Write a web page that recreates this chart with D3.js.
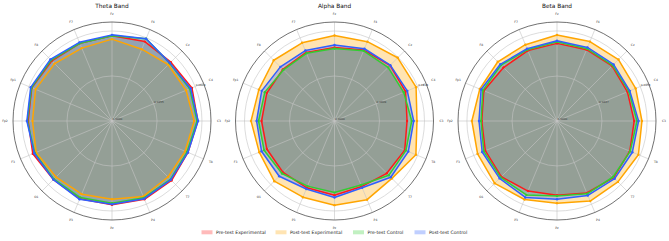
<!DOCTYPE html>
<html><head><meta charset="utf-8">
<script src="https://cdn.jsdelivr.net/npm/d3@7"></script>
<style>body{margin:0;background:#fff}svg{display:block}text{font-family:"DejaVu Sans",sans-serif}</style>
</head><body><svg id="c" width="669" height="241"></svg>
<script>
const channels = ["Fz","F4","Cz","C4","C3","T8","T7","P4","Pz","P3","O1","F3","Fp2","Fp1","F8","F7"];
const seriesNames = ["Pre-test Experimental","Post-test Experimental","Pre-test Control","Post-test Control"];
const seriesColors = ["#ff1a1a","#ffa500","#32cd32","#2f5fff"];
const bands = ["Theta Band","Alpha Band","Beta Band"];
const bandMax = [0.1, 0.2, 0.05];
const thetaTicks = [0, 0.0455, 0.0909];
const alphaTicks = [0, 0.0909, 0.1818];
const betaTicks = [0, 0.0227, 0.0455];

const thetaPreExp  = [0.0860,0.0868,0.0840,0.0874,0.0867,0.0830,0.0850,0.0856,0.0847,0.0850,0.0837,0.0866,0.0847,0.0877,0.0860,0.0849];
const thetaPostExp = [0.0827,0.0785,0.0804,0.0810,0.0830,0.0800,0.0800,0.0825,0.0790,0.0800,0.0800,0.0830,0.0803,0.0836,0.0820,0.0797];
const thetaPreCon  = [0.0860,0.0900,0.0825,0.0850,0.0860,0.0820,0.0835,0.0840,0.0830,0.0837,0.0830,0.0845,0.0855,0.0880,0.0870,0.0850];
const thetaPostCon = [0.0870,0.0900,0.0827,0.0860,0.0870,0.0830,0.0840,0.0849,0.0840,0.0856,0.0837,0.0850,0.0860,0.0889,0.0880,0.0860];

const alphaPreExp  = [0.1486,0.1552,0.1588,0.1554,0.1466,0.1536,0.1494,0.1434,0.1500,0.1460,0.1470,0.1480,0.1474,0.1480,0.1476,0.1500];
const alphaPostExp = [0.1726,0.1734,0.1806,0.1784,0.1666,0.1780,0.1640,0.1720,0.1700,0.1666,0.1720,0.1646,0.1686,0.1654,0.1736,0.1710];
const alphaPreCon  = [0.1466,0.1534,0.1532,0.1514,0.1560,0.1560,0.1552,0.1400,0.1446,0.1424,0.1500,0.1540,0.1534,0.1524,0.1460,0.1480];
const alphaPostCon = [0.1534,0.1580,0.1594,0.1592,0.1600,0.1614,0.1608,0.1460,0.1546,0.1488,0.1580,0.1596,0.1574,0.1592,0.1546,0.1540];

const betaPreExp  = [0.0392,0.0390,0.0393,0.0385,0.0390,0.0398,0.0405,0.0393,0.0375,0.0383,0.0398,0.0392,0.0380,0.0400,0.0382,0.0385];
const betaPostExp = [0.0434,0.0434,0.0439,0.0430,0.0429,0.0445,0.0435,0.0438,0.0415,0.0429,0.0445,0.0434,0.0430,0.0422,0.0423,0.0417];
const betaPreCon  = [0.0400,0.0395,0.0398,0.0393,0.0404,0.0400,0.0400,0.0398,0.0379,0.0404,0.0403,0.0400,0.0384,0.0405,0.0400,0.0390];
const betaPostCon = [0.0405,0.0402,0.0404,0.0398,0.0412,0.0412,0.0412,0.0407,0.0395,0.0418,0.0410,0.0409,0.0394,0.0415,0.0405,0.0395];

const bandData = [
  [thetaPreExp, thetaPostExp, thetaPreCon, thetaPostCon],
  [alphaPreExp, alphaPostExp, alphaPreCon, alphaPostCon],
  [betaPreExp, betaPostExp, betaPreCon, betaPostCon]
];
const bandTicks = [thetaTicks, alphaTicks, betaTicks];

const svg = d3.select("#c");
const centersX = [112, 334.5, 557];
const cy = 121, R = 99;
const angle = d3.scaleLinear().domain([0, channels.length]).range([0, 2*Math.PI]);
const fmt = d3.format(".4f");

bands.forEach((band, b) => {
  const g = svg.append("g").attr("transform", `translate(${centersX[b]},${cy})`);
  const r = d3.scaleLinear().domain([0, bandMax[b]]).range([0, R]);
  const data = bandData[b];
  const line = d3.lineRadial().angle((d,i)=>angle(i)).radius(d=>r(d)).curve(d3.curveLinearClosed);

  data.forEach((s, k) => {
    g.append("path").attr("d", line(s)).attr("fill", seriesColors[k]).attr("fill-opacity", 0.3).attr("stroke","none");
  });
  bandTicks[b].slice(1).forEach(t => {
    g.append("circle").attr("r", r(t)).attr("fill","none").attr("stroke","#c4c4c4").attr("stroke-width",0.6);
  });
  channels.forEach((c, i) => {
    const a = angle(i);
    g.append("line").attr("x1",0).attr("y1",0)
      .attr("x2", R*Math.sin(a)).attr("y2", -R*Math.cos(a))
      .attr("stroke","#c4c4c4").attr("stroke-width",0.6);
    g.append("text").attr("x", 107*Math.sin(a)).attr("y", -107*Math.cos(a))
      .attr("text-anchor","middle").attr("dominant-baseline","central")
      .attr("font-size",3).attr("fill","#333").text(c);
  });
  g.append("circle").attr("r", R).attr("fill","none").attr("stroke","#333").attr("stroke-width",0.7);
  data.forEach((s, k) => {
    g.append("path").attr("d", line(s)).attr("fill","none").attr("stroke", seriesColors[k]).attr("stroke-width",1.5).attr("stroke-linejoin","round");
    g.selectAll(null).data(s).enter().append("circle")
      .attr("cx",(d,i)=>r(d)*Math.sin(angle(i))).attr("cy",(d,i)=>-r(d)*Math.cos(angle(i)))
      .attr("r",1.2).attr("fill", seriesColors[k]);
  });
  const la = angle(3);
  bandTicks[b].forEach(t => {
    g.append("text").attr("x", r(t)*Math.sin(la)+0.5).attr("y", -r(t)*Math.cos(la)-1)
      .attr("font-size",2.8).attr("fill","#333").text(fmt(t));
  });
  svg.append("text").attr("x", centersX[b]).attr("y", 8.2).attr("text-anchor","middle")
    .attr("font-size",5.8).attr("fill","#111").text(band);
});

const legX = [201.5, 275.5, 353, 414.5];
const lg = svg.append("g");
seriesNames.forEach((n, k) => {
  lg.append("rect").attr("x", legX[k]).attr("y", 230.3).attr("width", 11).attr("height", 4)
    .attr("fill", seriesColors[k]).attr("fill-opacity", 0.3);
  lg.append("text").attr("x", legX[k]+14.5).attr("y", 234).attr("font-size",4.6).attr("fill","#222").text(n);
});
</script></body></html>
